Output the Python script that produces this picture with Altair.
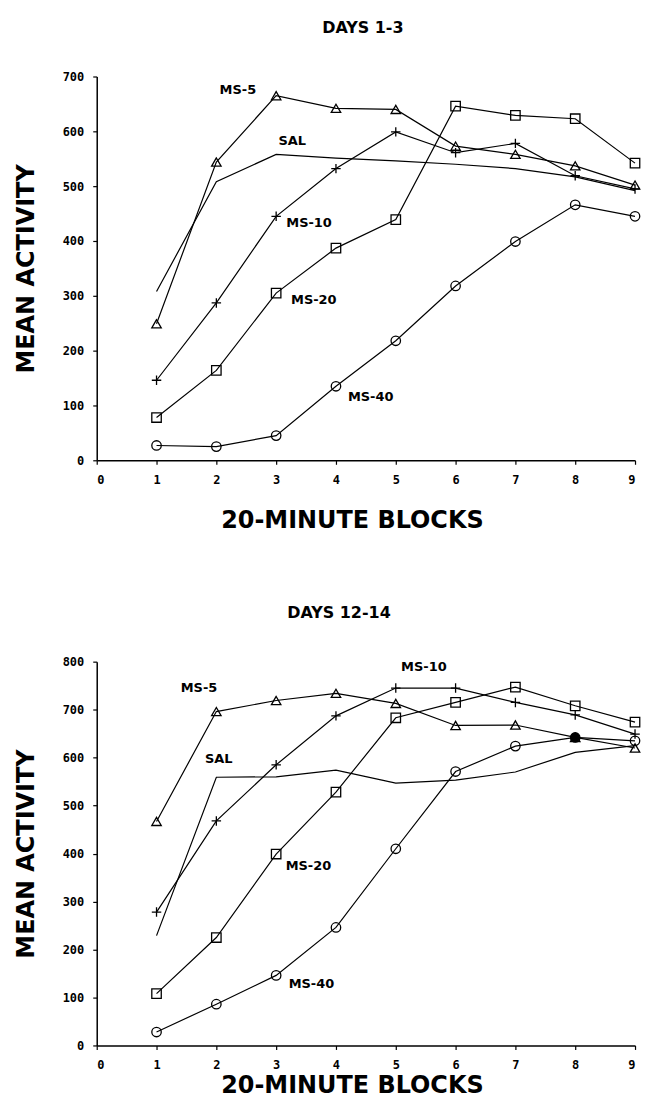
import altair as alt
import pandas as pd

blocks = [1, 2, 3, 4, 5, 6, 7, 8, 9]
series_names = ["SAL", "MS-5", "MS-10", "MS-20", "MS-40"]

# DAYS 1-3
sal_1 = [308, 508, 558, 551, 546, 540, 532, 517, 492]
ms5_1 = [249, 544, 665, 642, 640, 573, 558, 537, 502]
ms10_1 = [146, 287, 445, 532, 599, 561, 578, 519, 495]
ms20_1 = [78, 164, 305, 387, 439, 646, 629, 623, 542]
ms40_1 = [27, 25, 45, 135, 218, 318, 399, 466, 445]

# DAYS 12-14
sal_2 = [229, 559, 560, 574, 547, 553, 570, 611, 625]
ms5_2 = [467, 696, 719, 734, 713, 667, 668, 642, 620]
ms10_2 = [278, 468, 585, 687, 745, 745, 715, 689, 649]
ms20_2 = [108, 225, 399, 528, 683, 715, 747, 708, 674]
ms40_2 = [28, 86, 146, 246, 410, 571, 624, 642, 635]

# in-plot labels (data coordinates)
label_text = ["MS-5", "SAL", "MS-10", "MS-20", "MS-40"]
label_x_1 = [2.36, 3.27, 3.55, 3.63, 4.58]
label_y_1 = [676, 582, 432, 293, 116]
label_x_2 = [1.71, 2.04, 5.47, 3.54, 3.59]
label_y_2 = [745, 597, 788, 373, 128]

x_ticks = [0, 1, 2, 3, 4, 5, 6, 7, 8, 9]
y_ticks_1 = [0, 100, 200, 300, 400, 500, 600, 700]
y_ticks_2 = [0, 100, 200, 300, 400, 500, 600, 700, 800]

shape_domain = ["MS-5", "MS-10", "MS-20", "MS-40"]
shape_range = ["triangle-up", "M-1,0L1,0M0,-1L0,1", "square", "circle"]


def long_frame(values):
    rows = []
    for name, vals in zip(series_names, values):
        for b, v in zip(blocks, vals):
            rows.append({"block": b, "value": v, "series": name})
    return pd.DataFrame(rows)


def panel(values, lx, ly, yticks, title, ymax, xtitle_pad, title_dx, filled_block=None):
    df = long_frame(values)
    labels = pd.DataFrame({"text": label_text, "x": lx, "y": ly})
    xscale = alt.Scale(domain=[0, 9], nice=False, zero=True)
    yscale = alt.Scale(domain=[0, ymax], nice=False)
    xaxis = alt.Axis(values=x_ticks, format="d", title="20-MINUTE BLOCKS", labelAngle=0,
                     grid=False, tickSize=4, labelPadding=10, titlePadding=xtitle_pad,
                     titleX=256, titleAlign="center")
    yaxis = alt.Axis(values=yticks, format="d", title="MEAN ACTIVITY", grid=False,
                     tickSize=4, labelPadding=9, titlePadding=24)
    base = alt.Chart(df)
    lines = base.mark_line(color="black", strokeWidth=1.2).encode(
        x=alt.X("block:Q", scale=xscale, axis=xaxis),
        y=alt.Y("value:Q", scale=yscale, axis=yaxis),
        detail="series:N",
    )
    pts = base.transform_filter(alt.datum.series != "SAL").mark_point(
        filled=False, color="black", strokeWidth=1.3, size=90, opacity=1
    ).encode(
        x="block:Q",
        y="value:Q",
        shape=alt.Shape("series:N", scale=alt.Scale(domain=shape_domain, range=shape_range), legend=None),
    )
    txt = alt.Chart(labels).mark_text(
        font="DejaVu Sans", fontWeight="bold", fontSize=13, color="black"
    ).encode(x="x:Q", y="y:Q", text="text:N")
    layers = [lines, pts, txt]
    if filled_block is not None:
        dot = base.transform_filter(
            (alt.datum.series == "MS-40") & (alt.datum.block == filled_block)
        ).mark_point(filled=True, shape="circle", color="black", size=90, opacity=1).encode(
            x="block:Q", y="value:Q"
        )
        layers.append(dot)
    return alt.layer(*layers).properties(
        width=540, height=385,
        title=alt.TitleParams(title, font="DejaVu Sans", fontSize=16, fontWeight="bold",
                              color="black", offset=35, dx=title_dx),
    )


top = panel([sal_1, ms5_1, ms10_1, ms20_1, ms40_1], label_x_1, label_y_1, y_ticks_1,
            "DAYS 1-3", 700, 23, -3)
bottom = panel([sal_2, ms5_2, ms10_2, ms20_2, ms40_2], label_x_2, label_y_2, y_ticks_2,
               "DAYS 12-14", 800, 3, -27, filled_block=8)

chart = alt.vconcat(top, bottom, spacing=73).properties(
    padding={"left": 6, "top": 10, "right": 0, "bottom": 0}
).configure_view(stroke=None).configure_axis(
    domainColor="black", domainWidth=1.5, tickColor="black", tickWidth=1.2,
    labelFont="DejaVu Sans Mono", labelFontWeight="bold", labelFontSize=12, labelColor="black",
    titleFont="DejaVu Sans", titleFontSize=24, titleFontWeight="bold", titleColor="black",
)

chart.save("out.html", embed_options={"renderer": "svg", "actions": False})
